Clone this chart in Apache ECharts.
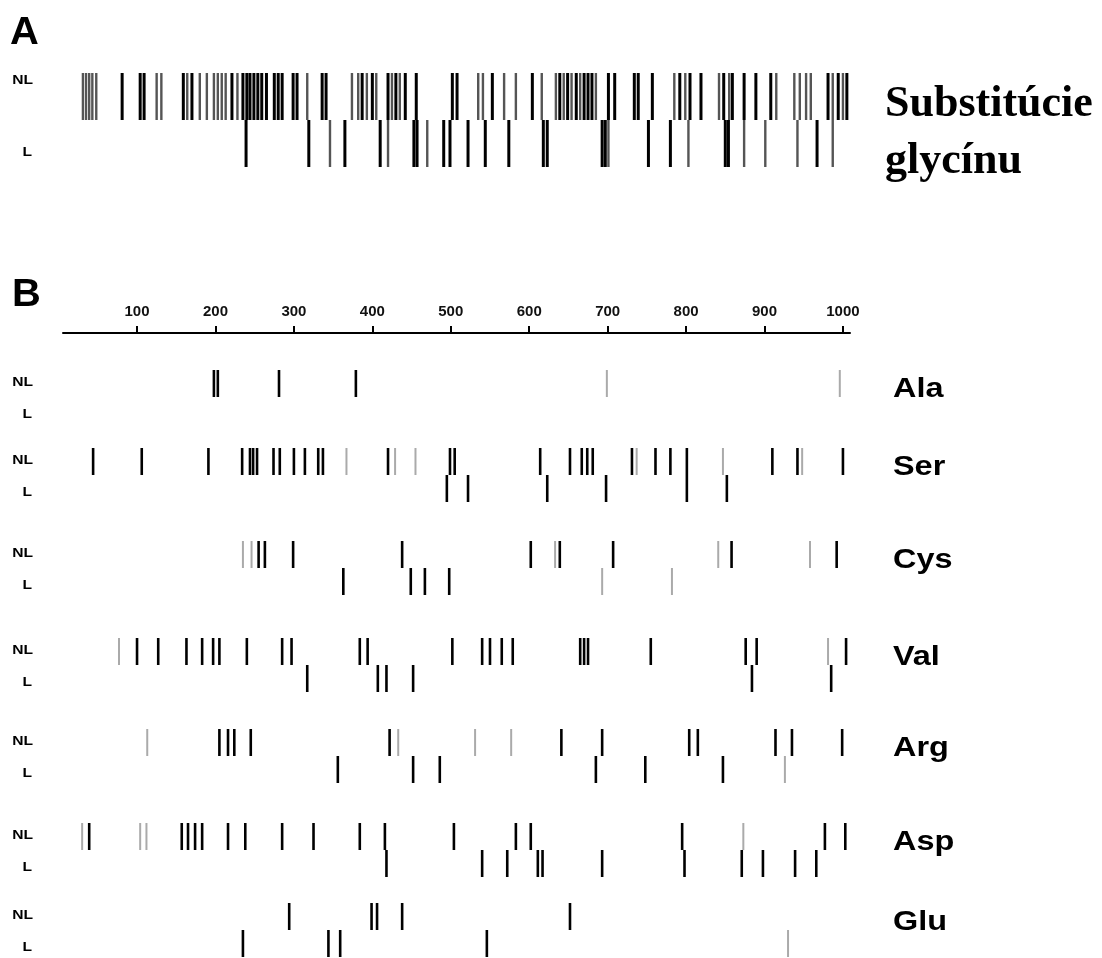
<!DOCTYPE html>
<html>
<head>
<meta charset="utf-8">
<script src="https://cdn.jsdelivr.net/npm/echarts@6/dist/echarts.min.js"></script>
<style>
html, body { margin: 0; padding: 0; background: #fff; }
#chart { width: 1102px; height: 958px; }
</style>
</head>
<body>
<div id="chart"></div>
<script>
// axis ticks (residue position)
const tickValues = [100, 200, 300, 400, 500, 600, 700, 800, 900, 1000]
const rowNames = ['Ala', 'Ser', 'Cys', 'Val', 'Arg', 'Asp', 'Glu']

// A: glycine substitutions
const glyNL = [81, 104, 109, 159, 170, 221, 235, 240, 244, 249, 254, 259, 265, 275, 280, 285, 299, 304, 336, 341, 387, 400, 420, 430, 442, 456, 502, 508, 553, 604, 639, 649, 660, 670, 675, 680, 701, 709, 734, 739, 757, 792, 805, 819, 848, 859, 874, 889, 908, 981, 994, 1005]
const glyNLpale = [31, 35, 39, 43, 48, 125, 131, 164, 180, 189, 198, 203, 208, 213, 228, 317, 374, 382, 393, 405, 425, 435, 535, 541, 568, 583, 616, 634, 644, 654, 665, 685, 785, 799, 842, 855, 915, 938, 945, 953, 959, 987, 1000]
const glyL = [239, 319, 365, 410, 453, 457, 491, 499, 522, 544, 574, 618, 623, 693, 697, 752, 780, 850, 854, 967]
const glyLpale = [346, 420, 470, 701, 803, 874, 901, 942, 987]

// B: other substitutions
const alaNL = [198, 203, 281, 379]
const alaNLpale = [699, 996]
const alaL = []
const alaLpale = []

const serNL = [44, 106, 191, 234, 244, 248, 253, 274, 282, 300, 314, 331, 337, 420, 499, 505, 614, 652, 667, 674, 681, 731, 761, 780, 801, 910, 942, 1000]
const serNLpale = [367, 429, 455, 737, 847, 948]
const serL = [495, 522, 623, 698, 801, 852]
const serLpale = []

const cysNL = [255, 263, 299, 438, 602, 639, 707, 858, 992]
const cysNLpale = [235, 246, 633, 841, 958]
const cysL = [363, 449, 467, 498]
const cysLpale = [693, 782]

const valNL = [100, 127, 163, 183, 197, 205, 240, 285, 297, 384, 394, 502, 540, 550, 565, 579, 665, 670, 675, 755, 876, 890, 1004]
const valNLpale = [77, 981]
const valL = [317, 407, 418, 452, 884, 985]
const valLpale = []

const argNL = [205, 216, 224, 245, 422, 641, 693, 804, 815, 914, 935, 999]
const argNLpale = [113, 433, 531, 577]
const argL = [356, 452, 486, 685, 748, 847]
const argLpale = [926]

const aspNL = [39, 157, 165, 174, 183, 216, 238, 285, 325, 384, 416, 504, 583, 602, 795, 977, 1003]
const aspNLpale = [30, 104, 112, 873]
const aspL = [418, 540, 572, 611, 617, 693, 798, 871, 898, 939, 966]
const aspLpale = []

const gluNL = [294, 399, 406, 438, 652]
const gluNLpale = []
const gluL = [235, 344, 359, 546]
const gluLpale = [930]

const rowsB = [
  [alaNL, alaNLpale, alaL, alaLpale],
  [serNL, serNLpale, serL, serLpale],
  [cysNL, cysNLpale, cysL, cysLpale],
  [valNL, valNLpale, valL, valLpale],
  [argNL, argNLpale, argL, argLpale],
  [aspNL, aspNLpale, aspL, aspLpale],
  [gluNL, gluNLpale, gluL, gluLpale]
]

// layout
const X0 = 63, XW = 787, XMIN = 5.6, XMAX = 1009
const rowMid = [397, 475, 568, 665, 756, 850, 930], HALF = 27

const chart = echarts.init(document.getElementById('chart'))

const grid = [], xAxis = [], yAxis = [], series = [], graphic = []

function addPanel(top, height, sets, w, dark, pale) {
  const i = grid.length
  grid.push({ left: X0, width: XW, top, height })
  xAxis.push({ gridIndex: i, type: 'value', min: XMIN, max: XMAX, show: false })
  yAxis.push({ gridIndex: i, type: 'category', data: ['L', 'NL'], show: false })
  const [nl, nlPale, l, lPale] = sets
  const mk = (data, color, bw) => ({
    type: 'custom', xAxisIndex: i, yAxisIndex: i, silent: true,
    data,
    renderItem: (params, api) => {
      const p = api.coord([api.value(0), api.value(1)])
      const h = api.size([0, 1])[1]
      return { type: 'rect', shape: { x: p[0] - bw / 2, y: p[1] - h / 2, width: bw, height: h }, style: { fill: color } }
    }
  })
  series.push(mk([...nlPale.map(v => [v, 1]), ...lPale.map(v => [v, 0])], pale, w - 0.6))
  series.push(mk([...nl.map(v => [v, 1]), ...l.map(v => [v, 0])], dark, w))
}

const txt = (text, x, y, font, opts = {}) => graphic.push({
  type: 'text', x, y, scaleX: opts.sx || 1.2, silent: true,
  style: { text, font, fill: opts.fill || '#000', align: opts.align || 'left', verticalAlign: opts.va || 'middle' }
})

// panel A
addPanel(73, 94, [glyNL, glyNLpale, glyL, glyLpale], 3, '#000', '#555')
txt('A', 10, 34, '900 38px "Liberation Sans"', { sx: 1.05 })
txt('NL', 33, 80, 'bold 13px "Liberation Sans"', { align: 'right' })
txt('L', 32, 152, 'bold 13px "Liberation Sans"', { align: 'right' })
txt('Substitúcie', 885, 105, 'bold 44px "Liberation Serif"', { sx: 1.0 })
txt('glycínu', 885, 162, 'bold 44px "Liberation Serif"', { sx: 1.0 })

// panel B axis
grid.push({ left: X0, width: XW, top: 332, height: 1 })
xAxis.push({
  gridIndex: grid.length - 1, type: 'value', min: XMIN, max: XMAX, position: 'top',
  axisLine: { show: true, lineStyle: { color: '#000', width: 2 } },
  axisTick: { show: true, customValues: tickValues, length: 7, lineStyle: { color: '#000', width: 2 } },
  axisLabel: { show: true, customValues: tickValues, formatter: v => String(v), margin: 13, fontSize: 15, fontWeight: 'bold', color: '#111', fontFamily: 'Liberation Sans' },
  splitLine: { show: false }
})
yAxis.push({ gridIndex: grid.length - 1, type: 'value', show: false })
txt('B', 12, 296, '900 38px "Liberation Sans"', { sx: 1.05 })

rowsB.forEach((sets, r) => {
  addPanel(rowMid[r] - HALF, HALF * 2, sets, 2.6, '#000', '#aaa')
  txt('NL', 33, rowMid[r] - 15, 'bold 13px "Liberation Sans"', { align: 'right' })
  txt('L', 32, rowMid[r] + 17, 'bold 13px "Liberation Sans"', { align: 'right' })
  txt(rowNames[r], 893, rowMid[r] - 7, 'bold 27px "Liberation Sans"', { sx: 1.2 })
})

chart.setOption({ animation: false, backgroundColor: '#fff', grid, xAxis, yAxis, series, graphic })
</script>
</body>
</html>
